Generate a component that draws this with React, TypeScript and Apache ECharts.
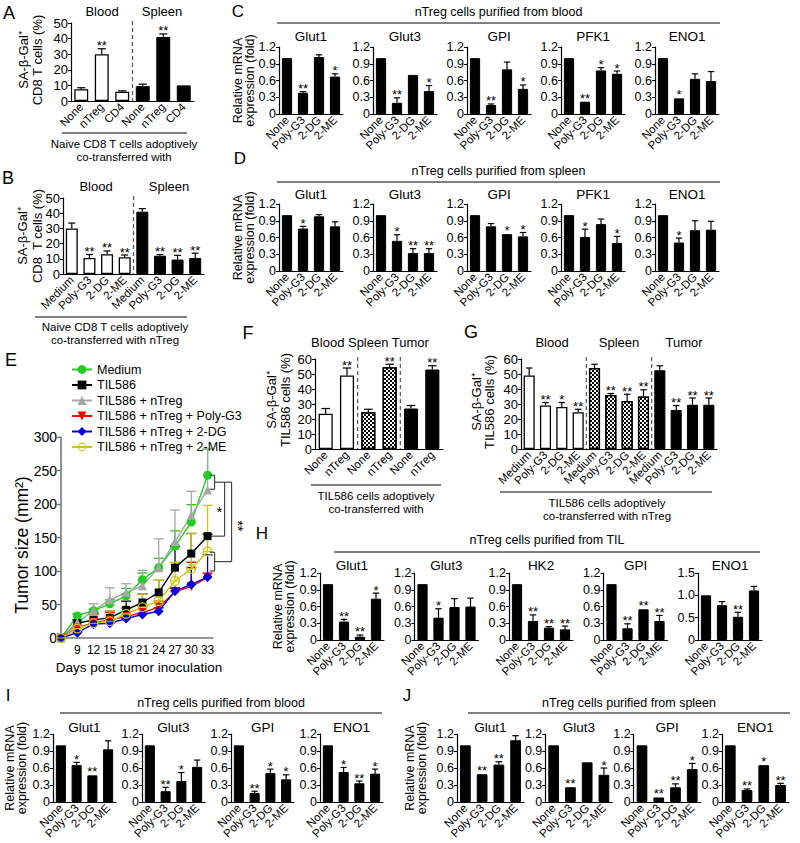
import React, { useEffect, useRef } from 'react';
import * as echarts from 'echarts';

const FONT = '"Liberation Sans", Arial, Helvetica, sans-serif';

// ===== Panel A =====
const aCategories = ['None', 'nTreg', 'CD4', 'None', 'nTreg', 'CD4'];
const aMeans = [7.5, 30, 6, 9.5, 41, 10];
const aErrTops = [8.5, 33.5, 6.5, 10.8, 43, 10.3];
const aStars = ['', '**', '', '', '**', ''];

// ===== Panel B =====
const bCategories = ['Medium', 'Poly-G3', '2-DG', '2-ME', 'Medium', 'Poly-G3', '2-DG', '2-ME'];
const bMeans = [30, 10.5, 13, 11, 41, 12, 9.5, 10.5];
const bErrTops = [33.5, 12.8, 15.2, 12.5, 43, 12.8, 12.3, 13.7];
const bStars = ['', '**', '**', '**', '', '**', '**', '**'];

// ===== Panel F =====
const fCategories = ['None', 'nTreg', 'None', 'nTreg', 'None', 'nTreg'];
const fMeans = [23.5, 49, 24.5, 54.5, 27, 53];
const fErrTops = [27, 54, 26.5, 56.5, 29, 55.5];
const fStars = ['', '**', '', '**', '', '**'];

// ===== Panel G =====
const gCategories = ['Medium', 'Poly-G3', '2-DG', '2-ME', 'Medium', 'Poly-G3', '2-DG', '2-ME', 'Medium', 'Poly-G3', '2-DG', '2-ME'];
const gMeans = [49, 29, 28, 24.5, 54, 36, 32, 35, 52.5, 26, 29.5, 29.5];
const gErrTops = [54, 31, 31, 26.5, 56.5, 37, 36.5, 39.5, 55.5, 29, 34, 34];
const gStars = ['', '**', '*', '**', '', '**', '**', '**', '', '**', '**', '**'];

// ===== Gene expression panels =====
const treatments = ['None', 'Poly-G3', '2-DG', '2-ME'];

const cGenes = ['Glut1', 'Glut3', 'GPI', 'PFK1', 'ENO1'];
const cMeans = [
  [1.0, 0.38, 1.02, 0.67],
  [1.0, 0.2, 0.7, 0.41],
  [1.0, 0.16, 0.8, 0.45],
  [1.0, 0.22, 0.78, 0.72],
  [1.0, 0.28, 0.63, 0.59],
];
const cErrTops = [
  [1.0, 0.4, 1.06, 0.72],
  [1.0, 0.29, 0.71, 0.51],
  [1.0, 0.18, 0.93, 0.52],
  [1.0, 0.23, 0.83, 0.77],
  [1.0, 0.29, 0.72, 0.76],
];
const cStars = [
  ['', '**', '', '*'],
  ['', '**', '', '*'],
  ['', '**', '', '*'],
  ['', '**', '*', '*'],
  ['', '*', '', ''],
];

const dGenes = ['Glut1', 'Glut3', 'GPI', 'PFK1', 'ENO1'];
const dMeans = [
  [1.0, 0.76, 0.98, 0.8],
  [1.0, 0.54, 0.32, 0.32],
  [1.0, 0.8, 0.66, 0.62],
  [1.0, 0.61, 0.84, 0.5],
  [1.0, 0.51, 0.73, 0.74],
];
const dErrTops = [
  [1.0, 0.8, 1.01, 0.88],
  [1.0, 0.65, 0.4, 0.4],
  [1.0, 0.85, 0.67, 0.69],
  [1.0, 0.75, 0.93, 0.62],
  [1.0, 0.59, 0.9, 0.89],
];
const dStars = [
  ['', '*', '', ''],
  ['', '*', '**', '**'],
  ['', '', '*', '*'],
  ['', '*', '', '*'],
  ['', '*', '', ''],
];

const hGenes = ['Glut1', 'Glut3', 'HK2', 'GPI', 'ENO1'];
const hAxisMax = [1.2, 1.2, 1.2, 1.2, 1.5];
const hAxisStep = [0.3, 0.3, 0.3, 0.3, 0.5];
const hMeans = [
  [1.0, 0.33, 0.06, 0.74],
  [1.0, 0.4, 0.59, 0.6],
  [1.0, 0.34, 0.22, 0.19],
  [1.0, 0.21, 0.55, 0.34],
  [1.0, 0.78, 0.52, 1.11],
];
const hErrTops = [
  [1.0, 0.37, 0.09, 0.84],
  [1.0, 0.56, 0.74, 0.75],
  [1.0, 0.45, 0.24, 0.25],
  [1.0, 0.29, 0.56, 0.44],
  [1.0, 0.86, 0.62, 1.2],
];
const hStars = [
  ['', '**', '**', '*'],
  ['', '*', '', ''],
  ['', '**', '**', '**'],
  ['', '**', '**', '**'],
  ['', '', '**', ''],
];

const iGenes = ['Glut1', 'Glut3', 'GPI', 'ENO1'];
const iMeans = [
  [1.0, 0.65, 0.47, 0.93],
  [1.0, 0.19, 0.37, 0.62],
  [1.0, 0.16, 0.51, 0.4],
  [1.0, 0.53, 0.33, 0.5],
];
const iErrTops = [
  [1.0, 0.7, 0.48, 1.08],
  [1.0, 0.26, 0.52, 0.74],
  [1.0, 0.19, 0.58, 0.48],
  [1.0, 0.61, 0.37, 0.58],
];
const iStars = [
  ['', '*', '**', ''],
  ['', '**', '*', ''],
  ['', '**', '*', '*'],
  ['', '*', '**', '*'],
];

const jGenes = ['Glut1', 'Glut3', 'GPI', 'ENO1'];
const jMeans = [
  [1.0, 0.49, 0.66, 1.09],
  [1.0, 0.26, 0.7, 0.48],
  [1.0, 0.08, 0.26, 0.58],
  [1.0, 0.21, 0.65, 0.3],
];
const jErrTops = [
  [1.0, 0.5, 0.71, 1.17],
  [1.0, 0.27, 0.71, 0.6],
  [1.0, 0.09, 0.32, 0.68],
  [1.0, 0.23, 0.66, 0.33],
];
const jStars = [
  ['', '**', '**', ''],
  ['', '**', '', '*'],
  ['', '**', '**', '*'],
  ['', '**', '*', '**'],
];

// ===== Panel E (tumor growth) =====
const eDays = [6, 9, 12, 15, 18, 21, 24, 27, 30, 33];
const eGroups = ['Medium', 'TIL586', 'TIL586 + nTreg', 'TIL586 + nTreg + Poly-G3', 'TIL586 + nTreg + 2-DG', 'TIL586 + nTreg + 2-ME'];
const eMedium = [0, 33, 41, 51, 63, 87, 105, 137, 173, 243];
const eMediumErr = [0, 36, 43, 57, 74, 97, 119, 160, 199, 282];
const eTIL586 = [0, 22, 27, 30, 42, 53, 68, 105, 126, 152];
const eTIL586Err = [0, 27, 37, 40, 55, 66, 86, 137, 156, 155];
const eNTreg = [0, 23, 41, 57, 68, 78, 105, 144, 183, 221];
const eNTregErr = [0, 26, 51, 75, 81, 101, 148, 191, 219, 282];
const ePolyG3 = [0, 15, 23, 27, 32, 38, 46, 69, 77, 90];
const ePolyG3Err = [0, 17, 35, 38, 45, 47, 55, 74, 113, 97];
const e2DG = [0, 8, 21, 22, 29, 35, 40, 70, 80, 91];
const e2DGErr = [0, 10, 24, 25, 32, 37, 45, 75, 105, 124];
const e2ME = [0, 14, 22, 25, 36, 46, 55, 85, 103, 129];
const e2MEErr = [0, 18, 33, 40, 45, 66, 86, 113, 156, 198];
const eBracketHigh = [243, 222];
const eBracketMid = 152;
const eBracketLow = [128, 100];

// ---------------- helpers ----------------
type Acc = { grid: any[]; xAxis: any[]; yAxis: any[]; series: any[]; graphic: any[] };

const T = (text: string, x: number, y: number, size: number, opts: any = {}) => ({
  type: 'text',
  x,
  y,
  rotation: opts.rot || 0,
  silent: true,
  z: 10,
  style: {
    text,
    font: `${opts.weight || 'normal'} ${size}px ${FONT}`,
    fill: opts.color || '#000',
    align: opts.align || 'center',
    verticalAlign: 'middle',
  },
});
const Ln = (x1: number, y1: number, x2: number, y2: number, color = '#555', w = 1.3) => ({
  type: 'line',
  silent: true,
  shape: { x1, y1, x2, y2 },
  style: { stroke: color, lineWidth: w },
});

const checkDecal = {
  symbol: 'rect',
  symbolSize: 1,
  dashArrayX: [[2, 2], [0, 2, 2, 0]],
  dashArrayY: [2, 0],
  color: '#000',
};

function fillStyle(kind: string) {
  if (kind === 'open') return { color: '#fff', borderColor: '#000', borderWidth: 1.3 };
  if (kind === 'check') return { color: '#fff', borderColor: '#000', borderWidth: 1.3, decal: checkDecal };
  return { color: '#000', borderColor: '#000', borderWidth: 1 };
}

function errorSeries(idx: number, means: number[], errs: number[], stars: string[], starSize: number) {
  return {
    type: 'custom',
    xAxisIndex: idx,
    yAxisIndex: idx,
    silent: true,
    z: 5,
    clip: false,
    data: means.map((m, i) => [i, m, errs[i]]),
    renderItem: (params: any, api: any) => {
      const i = api.value(0);
      const m = api.value(1);
      const e = api.value(2);
      const base = api.coord([i, m]);
      const top = api.coord([i, e]);
      const half = api.size([1, 0])[0] * 0.2;
      const ch: any[] = [];
      if (base[1] - top[1] > 0.6) {
        ch.push({ type: 'line', shape: { x1: base[0], y1: base[1], x2: top[0], y2: top[1] }, style: { stroke: '#000', lineWidth: 1.2 } });
        ch.push({ type: 'line', shape: { x1: top[0] - half, y1: top[1], x2: top[0] + half, y2: top[1] }, style: { stroke: '#000', lineWidth: 1.2 } });
      }
      const s = stars[params.dataIndex];
      if (s) {
        ch.push({
          type: 'text',
          x: top[0],
          y: top[1] - 3,
          style: { text: s, font: `${starSize}px ${FONT}`, fill: '#000', align: 'center', verticalAlign: 'middle' },
        });
      }
      return { type: 'group', children: ch };
    },
  };
}

function dividerSeries(idx: number, n: number, groupSize: number, max: number) {
  return {
    type: 'custom',
    xAxisIndex: idx,
    yAxisIndex: idx,
    silent: true,
    z: 4,
    clip: false,
    data: [[0, 0]],
    renderItem: (params: any, api: any) => {
      const ch: any[] = [];
      for (let k = groupSize; k < n; k += groupSize) {
        const a = api.coord([k - 1, 0]);
        const b = api.coord([k, 0]);
        const t = api.coord([k, max]);
        const x = (a[0] + b[0]) / 2;
        ch.push({ type: 'line', shape: { x1: x, y1: t[1] - 2, x2: x, y2: a[1] }, style: { stroke: '#555', lineWidth: 1.2, lineDash: [4, 3] } });
      }
      return { type: 'group', children: ch };
    },
  };
}

function addBarPanel(acc: Acc, cfg: any) {
  const idx = acc.grid.length;
  acc.grid.push({ left: cfg.left, top: cfg.top, width: cfg.width, height: cfg.height, containLabel: false });
  acc.xAxis.push({
    type: 'category',
    gridIndex: idx,
    data: cfg.cats,
    axisLine: { lineStyle: { color: '#000', width: 1.2 } },
    axisTick: { alignWithLabel: true, length: 3, lineStyle: { color: '#000' } },
    axisLabel: { rotate: 45, interval: 0, fontSize: cfg.labelSize || 11.5, color: '#000', margin: 4, fontFamily: FONT },
  });
  acc.yAxis.push({
    type: 'value',
    gridIndex: idx,
    min: 0,
    max: cfg.max,
    interval: cfg.step,
    axisLine: { show: true, lineStyle: { color: '#000', width: 1.2 } },
    axisTick: { show: true, length: 3, lineStyle: { color: '#000' } },
    splitLine: { show: false },
    axisLabel: {
      fontSize: cfg.tickSize || 13,
      color: '#000',
      margin: 3,
      fontFamily: FONT,
      formatter: (v: number) => (cfg.decimals ? (v === 0 ? '0' : v.toFixed(cfg.decimals)) : String(v)),
    },
  });
  acc.series.push({
    type: 'bar',
    xAxisIndex: idx,
    yAxisIndex: idx,
    barWidth: cfg.barWidth || '66%',
    data: cfg.means.map((v: number, i: number) => ({
      value: v,
      itemStyle: fillStyle(cfg.fills[Math.floor(i / cfg.groupSize)] || 'solid'),
    })),
  });
  acc.series.push(errorSeries(idx, cfg.means, cfg.errs, cfg.stars, cfg.starSize || 13));
  if (cfg.cats.length > cfg.groupSize) acc.series.push(dividerSeries(idx, cfg.cats.length, cfg.groupSize, cfg.max));
}

function addGeneRow(acc: Acc, cfg: any) {
  cfg.genes.forEach((g: string, k: number) => {
    const left = cfg.left0 + k * cfg.pitch;
    addBarPanel(acc, {
      cats: treatments,
      means: cfg.means[k],
      errs: cfg.errs[k],
      stars: cfg.stars[k],
      fills: ['solid'],
      groupSize: 4,
      left,
      top: cfg.top,
      width: cfg.width,
      height: cfg.height,
      max: cfg.maxes ? cfg.maxes[k] : 1.2,
      step: cfg.steps ? cfg.steps[k] : 0.3,
      decimals: 1,
      labelSize: 11.5,
      tickSize: 12.5,
      barWidth: '64%',
      starSize: 13,
    });
    acc.graphic.push(T(g, left + cfg.width / 2, cfg.subY, 13.5));
  });
  acc.graphic.push(T(cfg.title, (cfg.lineX1 + cfg.lineX2) / 2, cfg.titleY, 12.5));
  acc.graphic.push(Ln(cfg.lineX1, cfg.lineY, cfg.lineX2, cfg.lineY, '#555', 1.3));
  acc.graphic.push(T(cfg.letter, cfg.letterX, cfg.letterY, 17));
  const cy = cfg.top + cfg.height / 2;
  acc.graphic.push(T('Relative mRNA', cfg.yTitleX, cy, 12.5, { rot: Math.PI / 2 }));
  acc.graphic.push(T('expression (fold)', cfg.yTitleX + 12, cy, 12.5, { rot: Math.PI / 2 }));
}

const ringSymbol =
  'path://M0,10A10,10 0 1,1 20,10A10,10 0 1,1 0,10ZM2.6,10A7.4,7.4 0 1,0 17.4,10A7.4,7.4 0 1,0 2.6,10ZM2.6,8.9H17.4V11.1H2.6Z';

function addTumorPanel(acc: Acc) {
  const idx = acc.grid.length;
  acc.grid.push({ left: 61, top: 437, width: 152, height: 201, containLabel: false });
  acc.xAxis.push({
    type: 'value',
    gridIndex: idx,
    min: 6,
    max: 34,
    interval: 3,
    axisLine: { lineStyle: { color: '#777', width: 1.6 } },
    axisTick: { show: false },
    splitLine: { show: false },
    axisLabel: { fontSize: 12, color: '#000', margin: 6, fontFamily: FONT, formatter: (v: number) => (v === 6 ? '' : String(v)) },
  });
  acc.yAxis.push({
    type: 'value',
    gridIndex: idx,
    min: 0,
    max: 300,
    interval: 50,
    axisLine: { show: true, lineStyle: { color: '#777', width: 1.6 } },
    axisTick: { show: true, length: 4, lineStyle: { color: '#777', width: 1.4 } },
    splitLine: { show: false },
    axisLabel: { fontSize: 14, color: '#000', margin: 4, fontFamily: FONT },
  });
  const groups = [
    { name: eGroups[0], vals: eMedium, errs: eMediumErr, color: '#22cc22', symbol: 'circle', size: 9 },
    { name: eGroups[1], vals: eTIL586, errs: eTIL586Err, color: '#000000', symbol: 'rect', size: 8 },
    { name: eGroups[2], vals: eNTreg, errs: eNTregErr, color: '#a6a6a6', symbol: 'triangle', size: 9 },
    { name: eGroups[3], vals: ePolyG3, errs: ePolyG3Err, color: '#ff0000', symbol: 'path://M0,0L10,0L5,9Z', size: 9 },
    { name: eGroups[4], vals: e2DG, errs: e2DGErr, color: '#0000dd', symbol: 'diamond', size: 10 },
    { name: eGroups[5], vals: e2ME, errs: e2MEErr, color: '#c8c800', symbol: ringSymbol, size: 10 },
  ];
  groups.forEach((g) => {
    acc.series.push({
      type: 'custom',
      xAxisIndex: idx,
      yAxisIndex: idx,
      silent: true,
      z: 1,
      clip: false,
      data: eDays.map((d, i) => [d, g.vals[i], g.errs[i]]),
      renderItem: (params: any, api: any) => {
        const d = api.value(0);
        const m = api.value(1);
        const e = api.value(2);
        const b = api.coord([d, m]);
        const t = api.coord([d, e]);
        if (b[1] - t[1] < 0.6) return { type: 'group', children: [] };
        return {
          type: 'group',
          children: [
            { type: 'line', shape: { x1: b[0], y1: b[1], x2: t[0], y2: t[1] }, style: { stroke: g.color, lineWidth: 1.3 } },
            { type: 'line', shape: { x1: t[0] - 5, y1: t[1], x2: t[0] + 5, y2: t[1] }, style: { stroke: g.color, lineWidth: 1.3 } },
          ],
        };
      },
    });
  });
  groups.forEach((g) => {
    acc.series.push({
      type: 'line',
      name: g.name,
      xAxisIndex: idx,
      yAxisIndex: idx,
      data: eDays.map((d, i) => [d, g.vals[i]]),
      symbol: g.symbol,
      symbolSize: g.size,
      showAllSymbol: true,
      itemStyle: { color: g.color },
      lineStyle: { color: g.color, width: 1.4 },
      z: 3,
    });
  });
  // significance brackets
  acc.series.push({
    type: 'custom',
    xAxisIndex: idx,
    yAxisIndex: idx,
    silent: true,
    z: 6,
    clip: false,
    data: [[33, eBracketMid]],
    renderItem: (params: any, api: any) => {
      const x0 = api.coord([33, 0])[0];
      const y = (v: number) => api.coord([33, v])[1];
      const hT = y(eBracketHigh[0]);
      const hB = y(eBracketHigh[1]);
      const hM = (hT + hB) / 2;
      const lT = y(eBracketLow[0]);
      const lB = y(eBracketLow[1]);
      const lM = (lT + lB) / 2;
      const mid = y(api.value(1));
      const c = '#444';
      const L = (x1: number, y1: number, x2: number, y2: number) => ({ type: 'line', shape: { x1, y1, x2, y2 }, style: { stroke: c, lineWidth: 1.2 } });
      return {
        type: 'group',
        children: [
          L(x0 + 2, hT, x0 + 7, hT), L(x0 + 7, hT, x0 + 7, hB), L(x0 + 2, hB, x0 + 7, hB),
          L(x0 + 2, lT, x0 + 7, lT), L(x0 + 7, lT, x0 + 7, lB), L(x0 + 2, lB, x0 + 7, lB),
          L(x0 + 7, hM, x0 + 24, hM), L(x0 + 17, hM, x0 + 17, mid), L(x0 + 3, mid, x0 + 17, mid),
          L(x0 + 24, hM, x0 + 24, lM), L(x0 + 7, lM, x0 + 24, lM),
          { type: 'text', x: x0 + 12, y: (hM + mid) / 2 + 3, style: { text: '*', font: `14px ${FONT}`, fill: '#000', align: 'center', verticalAlign: 'middle' } },
          { type: 'text', x: x0 + 30, y: (hM + lM) / 2 + 4, rotation: -Math.PI / 2, style: { text: '**', font: `14px ${FONT}`, fill: '#000', align: 'center', verticalAlign: 'middle' } },
        ],
      };
    },
  });
}

function buildOption() {
  const acc: Acc = { grid: [], xAxis: [], yAxis: [], series: [], graphic: [] };

  // ----- A -----
  addBarPanel(acc, { cats: aCategories, means: aMeans, errs: aErrTops, stars: aStars, fills: ['open', 'solid'], groupSize: 3, left: 71, top: 23, width: 123, height: 78, max: 50, step: 10, barWidth: '68%' });
  acc.graphic.push(T('A', 9, 13, 18));
  acc.graphic.push(T('Blood', 102, 11, 13));
  acc.graphic.push(T('Spleen', 162, 11, 13));
  acc.graphic.push(T('SA-β-Gal⁺', 23, 60, 13, { rot: Math.PI / 2 }));
  acc.graphic.push(T('CD8 T cells (%)', 37, 60, 13, { rot: Math.PI / 2 }));
  acc.graphic.push(Ln(62, 133, 187, 133));
  acc.graphic.push(T('Naive CD8 T cells adoptively', 124, 144, 11.5));
  acc.graphic.push(T('co-transferred with', 124, 157, 11.5));

  // ----- B -----
  addBarPanel(acc, { cats: bCategories, means: bMeans, errs: bErrTops, stars: bStars, fills: ['open', 'solid'], groupSize: 4, left: 63, top: 198, width: 141, height: 76, max: 50, step: 10, barWidth: '68%' });
  acc.graphic.push(T('B', 8, 178, 18));
  acc.graphic.push(T('Blood', 96, 186, 13));
  acc.graphic.push(T('Spleen', 169, 186, 13));
  acc.graphic.push(T('SA-β-Gal⁺', 22, 236, 13, { rot: Math.PI / 2 }));
  acc.graphic.push(T('CD8  T cells (%)', 37, 236, 13, { rot: Math.PI / 2 }));
  acc.graphic.push(Ln(35, 317, 187, 317));
  acc.graphic.push(T('Naive CD8 T cells adoptively', 115, 327, 11.5));
  acc.graphic.push(T('co-transferred with nTreg', 115, 340, 11.5));

  // ----- F -----
  addBarPanel(acc, { cats: fCategories, means: fMeans, errs: fErrTops, stars: fStars, fills: ['open', 'check', 'solid'], groupSize: 2, left: 315, top: 359, width: 128, height: 90, max: 60, step: 10, barWidth: '66%' });
  acc.graphic.push(T('F', 248, 333, 18));
  acc.graphic.push(T('Blood Spleen Tumor', 370, 342, 13));
  acc.graphic.push(T('SA-β-Gal⁺', 271, 400, 13, { rot: Math.PI / 2 }));
  acc.graphic.push(T('TIL586 cells (%)', 285, 400, 13, { rot: Math.PI / 2 }));
  acc.graphic.push(Ln(311, 485, 441, 485));
  acc.graphic.push(T('TIL586 cells adoptively', 376, 496, 11.5));
  acc.graphic.push(T('co-transferred with', 376, 509, 11.5));

  // ----- G -----
  addBarPanel(acc, { cats: gCategories, means: gMeans, errs: gErrTops, stars: gStars, fills: ['open', 'check', 'solid'], groupSize: 4, left: 521, top: 359, width: 196, height: 90, max: 60, step: 10, barWidth: '68%' });
  acc.graphic.push(T('G', 471, 332, 18));
  acc.graphic.push(T('Blood', 552, 342, 13));
  acc.graphic.push(T('Spleen', 619, 342, 13));
  acc.graphic.push(T('Tumor', 684, 342, 13));
  acc.graphic.push(T('SA-β-Gal⁺', 476, 402, 13, { rot: Math.PI / 2 }));
  acc.graphic.push(T('TIL586 cells (%)', 489, 402, 13, { rot: Math.PI / 2 }));
  acc.graphic.push(Ln(500, 492, 712, 492));
  acc.graphic.push(T('TIL586 cells adoptively', 607, 503, 11.5));
  acc.graphic.push(T('co-transferred with nTreg', 607, 516, 11.5));

  // ----- C -----
  addGeneRow(acc, {
    genes: cGenes, means: cMeans, errs: cErrTops, stars: cStars,
    left0: 279, pitch: 94, width: 64, top: 47, height: 67, subY: 36,
    title: 'nTreg cells purified from blood', titleY: 12, lineY: 23, lineX1: 277, lineX2: 720,
    letter: 'C', letterX: 238, letterY: 11, yTitleX: 238,
  });
  // ----- D -----
  addGeneRow(acc, {
    genes: dGenes, means: dMeans, errs: dErrTops, stars: dStars,
    left0: 279, pitch: 94, width: 64, top: 204, height: 67, subY: 194,
    title: 'nTreg cells purified from spleen', titleY: 171, lineY: 182, lineX1: 277, lineX2: 720,
    letter: 'D', letterX: 240, letterY: 158, yTitleX: 238,
  });
  // ----- H -----
  addGeneRow(acc, {
    genes: hGenes, means: hMeans, errs: hErrTops, stars: hStars, maxes: hAxisMax, steps: hAxisStep,
    left0: 320, pitch: 94.5, width: 64, top: 573, height: 67, subY: 565,
    title: 'nTreg cells purified from TIL', titleY: 540, lineY: 552, lineX1: 334, lineX2: 760,
    letter: 'H', letterX: 262, letterY: 533, yTitleX: 278,
  });
  // ----- I -----
  addGeneRow(acc, {
    genes: iGenes, means: iMeans, errs: iErrTops, stars: iStars,
    left0: 53, pitch: 89, width: 63, top: 734, height: 68, subY: 727,
    title: 'nTreg cells purified from blood', titleY: 703, lineY: 713, lineX1: 60, lineX2: 382,
    letter: 'I', letterX: 8, letterY: 695, yTitleX: 10,
  });
  // ----- J -----
  addGeneRow(acc, {
    genes: jGenes, means: jMeans, errs: jErrTops, stars: jStars,
    left0: 457, pitch: 88.3, width: 67, top: 734, height: 68, subY: 727,
    title: 'nTreg cells purified from spleen', titleY: 703, lineY: 713, lineX1: 468, lineX2: 790,
    letter: 'J', letterX: 407, letterY: 695, yTitleX: 410,
  });

  // ----- E -----
  addTumorPanel(acc);
  acc.graphic.push(T('E', 11, 360, 18));
  acc.graphic.push(T('Tumor size (mm²)', 22, 545, 17.5, { rot: Math.PI / 2 }));
  acc.graphic.push(T('Days post tumor inoculation', 139, 667, 13.5));

  return {
    animation: false,
    backgroundColor: '#fff',
    textStyle: { fontFamily: FONT },
    grid: acc.grid,
    xAxis: acc.xAxis,
    yAxis: acc.yAxis,
    series: acc.series,
    legend: {
      orient: 'vertical',
      left: 66,
      top: 358,
      itemWidth: 20,
      itemHeight: 11,
      itemGap: 2.5,
      selectedMode: false,
      textStyle: { fontSize: 12.5, color: '#000', fontFamily: FONT, lineHeight: 11 },
      data: eGroups,
    },
    graphic: { elements: acc.graphic },
  };
}

export default function App() {
  const ref = useRef<HTMLDivElement>(null);
  useEffect(() => {
    if (!ref.current) return;
    const chart = echarts.init(ref.current, null, { renderer: 'svg' });
    chart.setOption(buildOption() as any);
    return () => chart.dispose();
  }, []);
  return (
    <div
      ref={ref}
      style={{ position: 'fixed', left: 0, top: 0, width: 800, height: 843, background: '#fff' }}
    />
  );
}
